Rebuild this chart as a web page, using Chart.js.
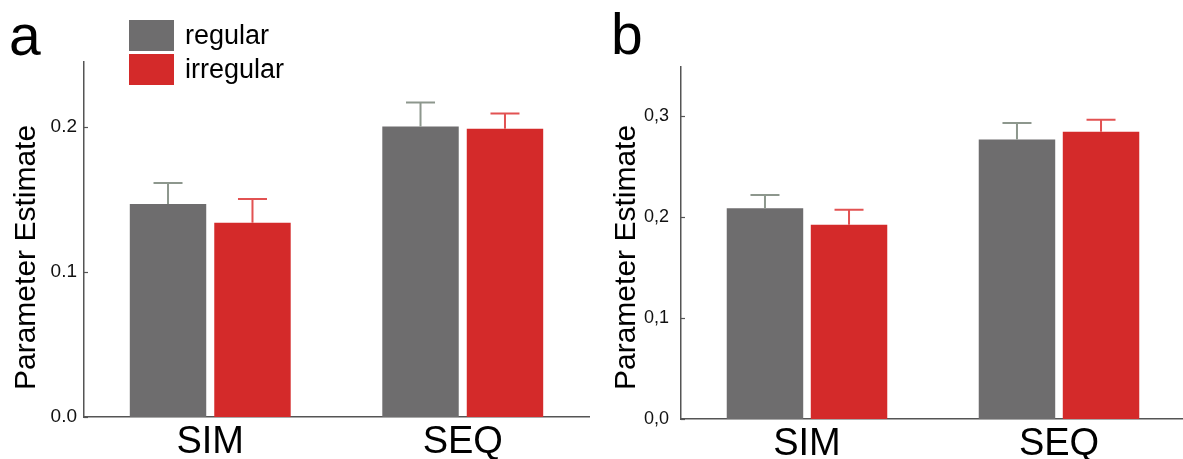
<!DOCTYPE html>
<html>
<head>
<meta charset="utf-8">
<script src="https://cdn.jsdelivr.net/npm/chart.js@4.4.0/dist/chart.umd.min.js"></script>
<style>
  html, body { margin: 0; padding: 0; background: #fff; overflow: hidden; }
  body { width: 1183px; height: 459px; position: relative; font-family: "Liberation Sans", Arial, sans-serif; color: #000; }
  .panel { position: absolute; top: 0; height: 459px; }
  #wrapA { left: 0; width: 600px; }
  #wrapB { left: 600px; width: 590px; }
  .letter { position: absolute; font-size: 57px; line-height: 1; }
  .legend-row { position: absolute; left: 129px; height: 31px; display: flex; align-items: center; }
  .legend-row .box { width: 45px; height: 31px; margin-right: 11px; }
  .legend-row span { font-size: 27px; line-height: 31px; }
</style>
</head>
<body>
<div class="panel" id="wrapA"><canvas id="chartA" width="600" height="459"></canvas></div>
<div class="panel" id="wrapB"><canvas id="chartB" width="590" height="459"></canvas></div>
<div class="letter" style="left:9px; top:7px;">a</div>
<div class="letter" style="left:611px; top:6px;">b</div>
<div id="legend"></div>
<script>
  // data
  const categories = ['SIM', 'SEQ'];
  const seriesNames = ['regular', 'irregular'];
  const seriesColors = ['#6e6d6e', '#d42a2a'];
  const errorColors = ['#8d978d', '#e25252'];

  // panel a
  const regularA = [0.147, 0.2005];
  const regularErrA = [0.0145, 0.0165];
  const irregularA = [0.134, 0.199];
  const irregularErrA = [0.0165, 0.0105];
  const tickValuesA = [0, 0.1, 0.2];
  const tickLabelsA = ['0.0', '0.1', '0.2'];

  // panel b
  const regularB = [0.209, 0.277];
  const regularErrB = [0.013, 0.0165];
  const irregularB = [0.1925, 0.2848];
  const irregularErrB = [0.015, 0.012];
  const tickValuesB = [0, 0.1, 0.2, 0.3];
  const tickLabelsB = ['0,0', '0,1', '0,2', '0,3'];

  const FONT = '"Liberation Sans", Arial, sans-serif';

  /* =============================== */
  /* Legend */
  /* =============================== */
  const legend = document.getElementById('legend');
  seriesNames.forEach(function (name, i) {
    const row = document.createElement('div');
    row.className = 'legend-row';
    row.style.top = (20 + i * 34) + 'px';
    row.innerHTML = '<div class="box" style="background:' + seriesColors[i] + '"></div><span>' + name + '</span>';
    legend.appendChild(row);
  });

  /* =============================== */
  /* error bars, inner ticks, y title */
  /* =============================== */
  const errorBars = {
    id: 'errorBars',
    afterDatasetsDraw(chart) {
      const ctx = chart.ctx;
      const y = chart.scales.y;
      chart.data.datasets.forEach(function (ds, di) {
        chart.getDatasetMeta(di).data.forEach(function (bar, i) {
          const top = y.getPixelForValue(ds.data[i] + ds.errors[i]);
          ctx.save();
          ctx.strokeStyle = ds.errorColor;
          ctx.lineWidth = 2;
          ctx.beginPath();
          ctx.moveTo(bar.x, bar.y);
          ctx.lineTo(bar.x, top);
          ctx.moveTo(bar.x - 14.5, top);
          ctx.lineTo(bar.x + 14.5, top);
          ctx.stroke();
          ctx.restore();
        });
      });
    }
  };

  const axisExtras = {
    id: 'axisExtras',
    afterDraw(chart, args, opts) {
      const ctx = chart.ctx;
      const y = chart.scales.y;
      const left = chart.chartArea.left;
      ctx.save();
      ctx.strokeStyle = '#555';
      ctx.lineWidth = 1.2;
      y.ticks.forEach(function (t) {
        const py = Math.round(y.getPixelForValue(t.value)) + 0.5;
        ctx.beginPath();
        ctx.moveTo(left, py);
        ctx.lineTo(left + 4, py);
        ctx.stroke();
      });
      ctx.fillStyle = '#000';
      ctx.font = '30px ' + FONT;
      ctx.textBaseline = 'alphabetic';
      ctx.textAlign = 'left';
      ctx.translate(opts.x, opts.y);
      ctx.rotate(-Math.PI / 2);
      ctx.fillText(opts.text, 0, 0);
      ctx.restore();
    }
  };

  function makeChart(id, cfg) {
    return new Chart(document.getElementById(id), {
      type: 'bar',
      data: {
        labels: categories,
        datasets: [{
          label: seriesNames[0],
          data: cfg.regular,
          errors: cfg.regularErr,
          errorColor: errorColors[0],
          backgroundColor: seriesColors[0]
        }, {
          label: seriesNames[1],
          data: cfg.irregular,
          errors: cfg.irregularErr,
          errorColor: errorColors[1],
          backgroundColor: seriesColors[1]
        }]
      },
      options: {
        responsive: false,
        animation: false,
        categoryPercentage: cfg.catPct,
        barPercentage: cfg.barPct,
        layout: { padding: { top: cfg.top, right: cfg.right, left: 0, bottom: 0 } },
        plugins: {
          legend: { display: false },
          tooltip: { enabled: false },
          axisExtras: { text: 'Parameter Estimate', x: 35, y: 390 }
        },
        scales: {
          x: {
            grid: { display: false, drawTicks: false },
            border: { display: true, color: '#555', width: 1.5 },
            ticks: { color: '#000', font: { family: FONT, size: 38 }, padding: cfg.xPad },
            afterFit: function (s) { s.height = cfg.xHeight; }
          },
          y: {
            min: 0,
            max: cfg.max,
            grid: { display: false, drawTicks: false },
            border: { display: true, color: '#555', width: 1.5 },
            ticks: {
              color: '#111',
              font: { family: FONT, size: cfg.yFont },
              padding: cfg.yPad,
              callback: function (v, i) { return cfg.tickLabels[i]; }
            },
            afterBuildTicks: function (s) {
              s.ticks = cfg.tickValues.map(function (v) { return { value: v }; });
            },
            afterFit: function (s) { s.width = cfg.yWidth; }
          }
        }
      },
      plugins: [errorBars, axisExtras]
    });
  }

  makeChart('chartA', {
    regular: regularA, regularErr: regularErrA,
    irregular: irregularA, irregularErr: irregularErrA,
    tickValues: tickValuesA, tickLabels: tickLabelsA,
    max: 0.245, top: 62, right: 11, yWidth: 84, xHeight: 42, xPad: 3, yPad: 7, yFont: 19,
    catPct: 0.669, barPct: 0.905
  });

  makeChart('chartB', {
    regular: regularB, regularErr: regularErrB,
    irregular: irregularB, irregularErr: irregularErrB,
    tickValues: tickValuesB, tickLabels: tickLabelsB,
    max: 0.349, top: 67, right: 5, yWidth: 81, xHeight: 40, xPad: 3, yPad: 12, yFont: 18,
    catPct: 0.667, barPct: 0.91
  });
</script>
</body>
</html>
